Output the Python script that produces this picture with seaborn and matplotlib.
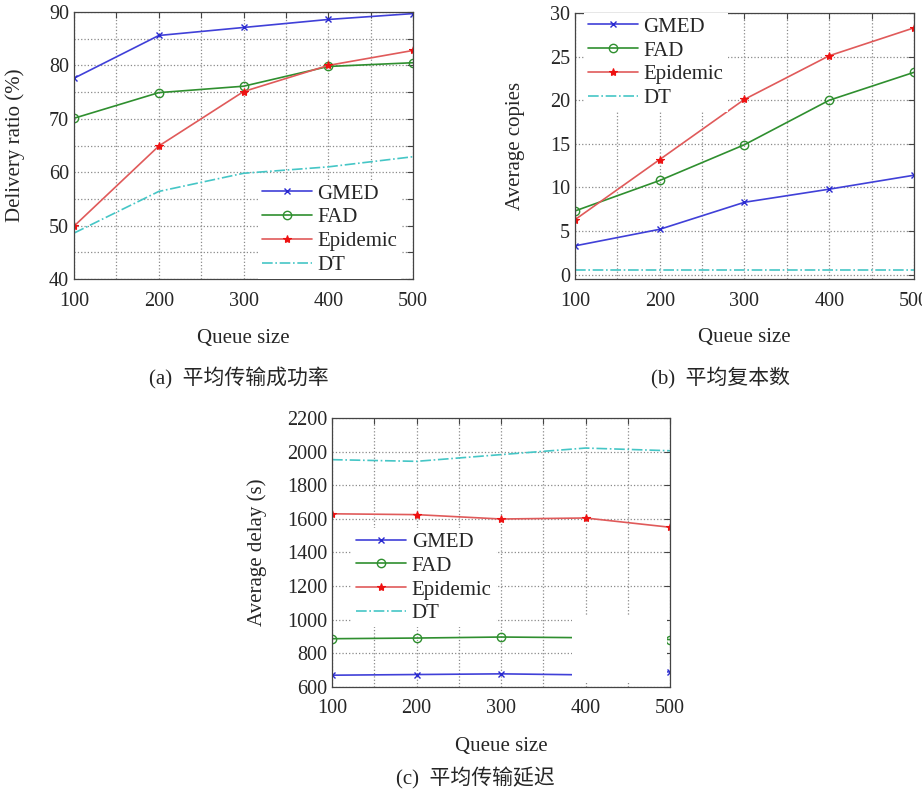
import matplotlib
matplotlib.use("Agg")
import matplotlib.pyplot as plt
from matplotlib.patches import Rectangle
from matplotlib.ticker import MultipleLocator
import seaborn as sns

# x values shared by all three panels
queue_size = [100, 200, 300, 400, 500]
methods = ["GMED", "FAD", "Epidemic", "DT"]

# (a) delivery ratio (%)
ratio_gmed = [77.6, 85.6, 87.1, 88.6, 89.7]
ratio_fad = [70.1, 74.9, 76.1, 79.8, 80.5]
ratio_epidemic = [49.9, 64.9, 75.1, 80.0, 82.8]
ratio_dt = [48.6, 56.4, 59.8, 61.0, 62.9]

# (b) average copies
copies_gmed = [3.3, 5.2, 8.3, 9.8, 11.4]
copies_fad = [7.3, 10.8, 14.9, 20.0, 23.2]
copies_epidemic = [6.3, 13.2, 20.1, 25.1, 28.3]
copies_dt = [0.5, 0.5, 0.5, 0.5, 0.5]

# (c) average delay (s)
delay_gmed = [670, 674, 678, 672, 690]
delay_fad = [887, 891, 897, 893, 882]
delay_epidemic = [1630, 1625, 1599, 1605, 1550]
delay_dt = [1952, 1942, 1982, 2021, 2005]

sns.set_theme(style="white")
plt.rcParams["font.family"] = ["Liberation Serif", "Noto Sans CJK SC"]

line_styles = {
    "GMED": dict(color="#4040d8", marker="x", ms=4, mew=1.0, mec="#2a2ad0", ls="-"),
    "FAD": dict(color="#2f8f2f", marker="o", ms=6, mew=1.0, mec="#2f8f2f", mfc="none", ls="-"),
    "Epidemic": dict(color="#e05a5a", marker="*", ms=6, mew=0.8, mec="#ee1111", mfc="#ee1111", ls="-"),
    "DT": dict(color="#45c6c6", ls="-."),
}


def draw_panel(ax, series, ylim, ymajor, yminor, ylabel, ylab_x, legend_loc, legend_anchor):
    for name, vals in zip(methods, series):
        sns.lineplot(x=queue_size, y=vals, ax=ax, label=name, lw=1.2, **line_styles[name])
    ax.set_xlim(100, 500)
    ax.set_ylim(*ylim)
    ax.xaxis.set_major_locator(MultipleLocator(100))
    ax.xaxis.set_minor_locator(MultipleLocator(50))
    ax.yaxis.set_major_locator(MultipleLocator(ymajor))
    if yminor:
        ax.yaxis.set_minor_locator(MultipleLocator(yminor))
    ax.grid(which="both", ls=":", color="#8a8a8a", lw=0.9)
    ax.tick_params(which="both", direction="in", top=True, right=True,
                   length=4, width=0.8, color="#444444", labelsize=14.5)
    ax.tick_params(axis="x", pad=9)
    for sp in ax.spines.values():
        sp.set_color("#444444")
        sp.set_linewidth(0.9)
    ax.set_ylabel(ylabel, fontsize=15)
    ax.yaxis.set_label_coords(ylab_x, 0.5)
    ax.set_xlabel("Queue size", fontsize=15, va="center")
    ax.xaxis.set_label_coords(0.5, -0.221)
    ax.legend(loc=legend_loc, bbox_to_anchor=legend_anchor, fontsize=15,
              frameon=True, facecolor="white", edgecolor="none", framealpha=1,
              fancybox=False, labelspacing=0.2, handlelength=2.4,
              handletextpad=0.25, borderpad=0.2, borderaxespad=0.0, numpoints=1)


fig = plt.figure(figsize=(9.22, 7.94), dpi=100)
ax_a = fig.add_axes([0.0803, 0.6486, 0.3677, 0.3363])
ax_b = fig.add_axes([0.6236, 0.6486, 0.3677, 0.3350])
ax_c = fig.add_axes([0.3601, 0.1348, 0.3666, 0.3388])

draw_panel(ax_a, [ratio_gmed, ratio_fad, ratio_epidemic, ratio_dt],
           (40, 90), 10, 5, "Delivery ratio (%)", -0.145,
           "lower right", (0.965, 0.0))
draw_panel(ax_b, [copies_gmed, copies_fad, copies_epidemic, copies_dt],
           (-0.5, 30), 5, None, "Average copies", -0.147,
           "upper left", (0.027, 1.0))
draw_panel(ax_c, [delay_gmed, delay_fad, delay_epidemic, delay_dt],
           (600, 2200), 200, None, "Average delay (s)", -0.192,
           "upper left", (0.06, 0.59))

# blank patch that hides part of panel (c) in the original figure
ax_c.add_patch(Rectangle((0.71, 0.015), 0.281, 0.253, transform=ax_c.transAxes,
                         facecolor="white", edgecolor="none", zorder=2.3))

cjk = ["Liberation Serif", "Noto Sans CJK SC"]
fig.text(239 / 922, 1 - 378 / 794, "(a)  平均传输成功率", ha="center", va="center",
         fontsize=15, family=cjk)
fig.text(720 / 922, 1 - 378 / 794, "(b)  平均复本数", ha="center", va="center",
         fontsize=15, family=cjk)
fig.text(475 / 922, 1 - 778 / 794, "(c)  平均传输延迟", ha="center", va="center",
         fontsize=15, family=cjk)

fig.savefig("out.png", dpi=100, facecolor="white")
